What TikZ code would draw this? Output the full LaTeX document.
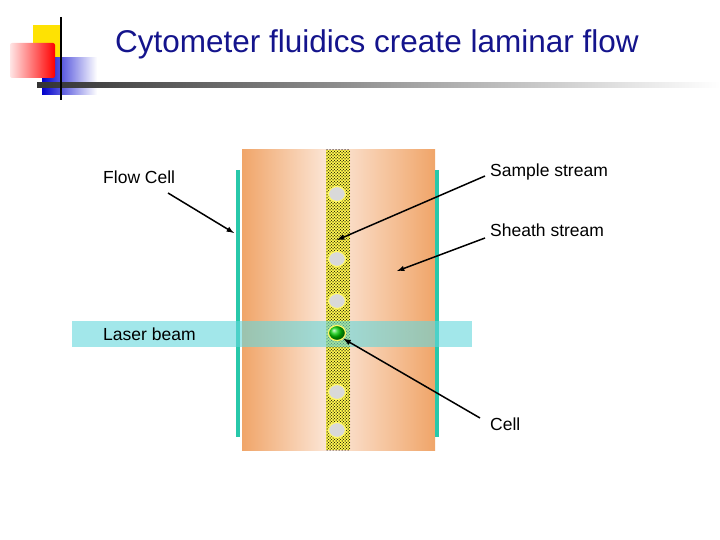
\documentclass[tikz,border=0pt]{standalone}
\usepackage{fontspec}
\setmainfont{Liberation Sans}
\usetikzlibrary{patterns,shapes.geometric}
\begin{document}
\begin{tikzpicture}[x=1pt,y=-1pt,
  lbl/.style={anchor=west,font=\fontsize{17.5}{20}\selectfont,inner sep=0},
  arr/.style={-latex,line width=1.5pt},
  cellc/.style={ellipse,minimum width=17pt,minimum height=15pt,inner sep=0,fill=gray!30,draw=yellow!60,line width=1.2pt}]
\useasboundingbox (0,0) rectangle (720,540);
\definecolor{org}{RGB}{240,165,105}
\definecolor{lt}{RGB}{252,232,218}
\definecolor{teal}{RGB}{40,200,170}
\definecolor{tb}{RGB}{20,20,140}
\definecolor{laser}{RGB}{100,215,220}
% logo
\fill[yellow!85!orange] (33,25) rectangle (62,58);
\shade[left color=blue!80!black, right color=white] (42,58) rectangle (97,95);
\shade[left color=red!10, right color=red, rounded corners=2pt] (10,43) rectangle (55,78);
\shade[left color=black!80, right color=white] (37,83) rectangle (720,88);
\draw[line width=2.5pt] (61,17) -- (61,100);
\node[anchor=west,text=tb,font=\fontsize{31.5}{34}\selectfont,inner sep=0] (title) at (115,44) {Cytometer fluidics create laminar flow};
% tube
\shade[left color=org,right color=lt] (242,150) rectangle (330,450);
\shade[left color=lt,right color=org] (330,150) rectangle (435,450);
\fill[yellow!70] (326,150) rectangle (350,450);
\fill[pattern=crosshatch dots] (326,150) rectangle (350,450);
\fill[pattern=dots] (326,150) rectangle (350,450);
\draw[teal,line width=3.5pt] (238,170) -- (238,437);
\draw[teal,line width=3.5pt] (437,170) -- (437,437);
\foreach \y/\n in {194/c1,259/c2,301/c3,392/c5,430/c6} \node[cellc] (\n) at (337,\y) {};
\fill[laser,opacity=0.6] (72,321) rectangle (472,347);
\node[cellc,ball color=green!80!black] (cell) at (337,333) {};
% labels
\node[lbl] (fc) at (103,177) {Flow Cell};
\node[lbl] (ss) at (490,172) {Sample stream};
\node[lbl] (sh) at (490,230) {Sheath stream};
\node[lbl] (lb) at (103,334) {Laser beam};
\node[lbl] (cl) at (490,424) {Cell};
\coordinate (fct) at (234,233);
\coordinate (sst) at (337,240);
\coordinate (sht) at (397,271);
\draw[arr] (168,193) -- (fct);
\draw[arr] (485,176) -- (sst);
\draw[arr] (485,238) -- (sht);
\draw[arr] (480,418) -- (cell.south east);
\end{tikzpicture}
\end{document}
